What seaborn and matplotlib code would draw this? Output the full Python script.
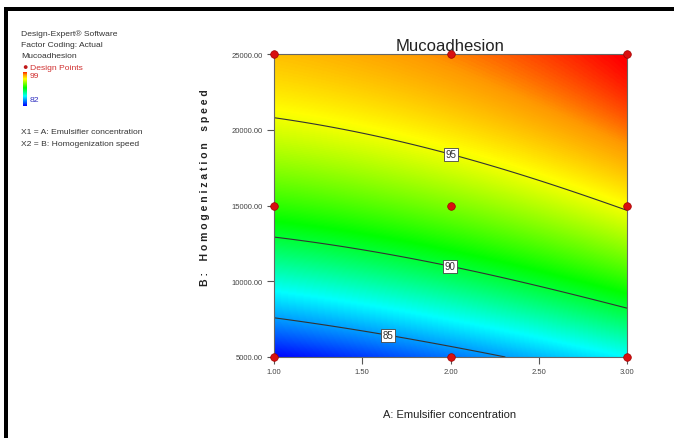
import numpy as np
import pandas as pd
import matplotlib
matplotlib.use("Agg")
import matplotlib.pyplot as plt
import seaborn as sns
from matplotlib.colors import LinearSegmentedColormap
from matplotlib.patches import Rectangle

# ---- data ----
a_levels = [1.0, 2.0, 3.0]                 # A: Emulsifier concentration
b_levels = [5000.0, 15000.0, 25000.0]      # B: Homogenization speed
# response at design grid, rows = B level, cols = A level
resp_b5000 = [82.1, 84.25, 86.8]
resp_b15000 = [91.6, 93.0, 95.2]
resp_b25000 = [96.5, 97.5, 99.1]
contour_levels = [85, 90, 95]
x_ticks = [1.00, 1.50, 2.00, 2.50, 3.00]
y_ticks = [5000, 10000, 15000, 20000, 25000]
title = "Mucoadhesion"
x_label = "A: Emulsifier concentration"
y_label = "B: Homogenization speed"
scale_lo, scale_hi = 82, 99

sns.set_theme(style="white")
plt.rcParams["font.family"] = ["Liberation Sans", "DejaVu Sans"]

# design points table
rows = []
for bi, rr in zip(b_levels, [resp_b5000, resp_b15000, resp_b25000]):
    for ai, r in zip(a_levels, rr):
        rows.append((ai, bi, r))
df = pd.DataFrame(rows, columns=["A", "B", "R"])

# biquadratic interpolating model through the design points
def terms(a, b):
    b = np.asarray(b) / 1000.0
    a = np.asarray(a)
    return np.stack([np.ones_like(a), a, b, a * a, b * b, a * b, a * a * b, a * b * b, a * a * b * b], axis=-1)

coef, *_ = np.linalg.lstsq(terms(df.A.values, df.B.values), df.R.values, rcond=None)

ag = np.linspace(1, 3, 300)
bg = np.linspace(5000, 25000, 300)
AA, BB = np.meshgrid(ag, bg)
RR = terms(AA, BB) @ coef

cmap = LinearSegmentedColormap.from_list(
    "de", [(0.0, "#0000ff"), (0.28, "#00ffff"), (0.52, "#00ff00"),
           (0.78, "#ffff00"), (0.90, "#ff9900"), (1.0, "#ff0000")])

fig = plt.figure(figsize=(6.74, 4.39), dpi=100)
ax = fig.add_axes([274 / 674, 1 - 358 / 439, 353 / 674, 303 / 439])
ax.imshow(RR, origin="lower", extent=[1, 3, 5000, 25000], aspect="auto",
          cmap=cmap, vmin=scale_lo, vmax=scale_hi, interpolation="bilinear")
cs = ax.contour(AA, BB, RR, levels=contour_levels, colors="#333333", linewidths=0.8)
labels = ax.clabel(cs, fmt="%d", fontsize=7, inline=False,
                   manual=[(2.0, 11070), (2.0, 18330), (1.65, 6700)])
for t in labels:
    t.set_rotation(0)
    t.set_bbox(dict(facecolor="white", edgecolor="#444444", pad=1.0, linewidth=0.6))
    t.set_color("#333333")

sns.scatterplot(data=df, x="A", y="B", ax=ax, color="#d81010", s=30,
                edgecolor="#a00000", linewidth=0.5, zorder=5, clip_on=False, legend=False)

ax.set_xlim(1, 3)
ax.set_ylim(5000, 25000)
ax.set_xticks(x_ticks)
ax.set_xticklabels([f"{v:.2f}" for v in x_ticks])
ax.set_yticks(y_ticks)
ax.set_yticklabels([f"{v:.2f}" for v in y_ticks])
ax.tick_params(axis="both", labelsize=5.5, colors="#555555", length=5, width=0.8,
               direction="out", bottom=True, left=True, pad=3)
for lab in ax.get_xticklabels() + ax.get_yticklabels():
    lab.set_color("#444444")
for s in ax.spines.values():
    s.set_color("#666666")
    s.set_linewidth(0.8)
ax.set_xlabel("")
ax.set_ylabel("")
ax.set_title(title, fontsize=12, color="#222222", pad=3)

fig.text(450 / 674, 1 - 415 / 439, x_label, ha="center", va="center", fontsize=8, color="#222222")
fig.text(205 / 674, 1 - 188 / 439, " ".join(list(y_label)).replace("   ", "    "), rotation=90,
         ha="center", va="center", fontsize=7.5, color="#222222", fontweight="bold")

# info block
info_color = "#333333"
fs = 6.1
fig.text(21 / 674, 1 - 34 / 439, "Design-Expert® Software", fontsize=fs, color=info_color, va="center")
fig.text(21 / 674, 1 - 45.5 / 439, "Factor Coding: Actual", fontsize=fs, color=info_color, va="center")
fig.text(21 / 674, 1 - 57 / 439, "Mucoadhesion", fontsize=fs, color=info_color, va="center")
fig.text(22 / 674, 1 - 67.5 / 439, "\u25CF", fontsize=6.5, color="#c01818", va="center")
fig.text(30 / 674, 1 - 68 / 439, "Design Points", fontsize=fs, color="#d03030", va="center")
cax = fig.add_axes([23 / 674, 1 - 107 / 439, 4 / 674, 34 / 439])
cax.imshow(np.linspace(0, 1, 100)[:, None], origin="lower", aspect="auto", cmap=cmap)
cax.set_xticks([]); cax.set_yticks([])
for s in cax.spines.values():
    s.set_visible(False)
fig.text(30 / 674, 1 - 76 / 439, "99", fontsize=fs, color="#d03030", va="center")
fig.text(30 / 674, 1 - 100 / 439, "82", fontsize=fs, color="#3030c0", va="center")
fig.text(21 / 674, 1 - 133 / 439, "X1 = A: Emulsifier concentration", fontsize=fs, color=info_color, va="center")
fig.text(21 / 674, 1 - 144 / 439, "X2 = B: Homogenization speed", fontsize=fs, color=info_color, va="center")

# black frame (top and left) as in the reference
fig.add_artist(Rectangle((4 / 674, 0), 4 / 674, 1 - 8 / 439, transform=fig.transFigure,
                         facecolor="black", edgecolor="none"))
fig.add_artist(Rectangle((4 / 674, 1 - 12 / 439), 670 / 674, 4 / 439, transform=fig.transFigure,
                         facecolor="black", edgecolor="none"))

fig.savefig("out.png", dpi=100)
